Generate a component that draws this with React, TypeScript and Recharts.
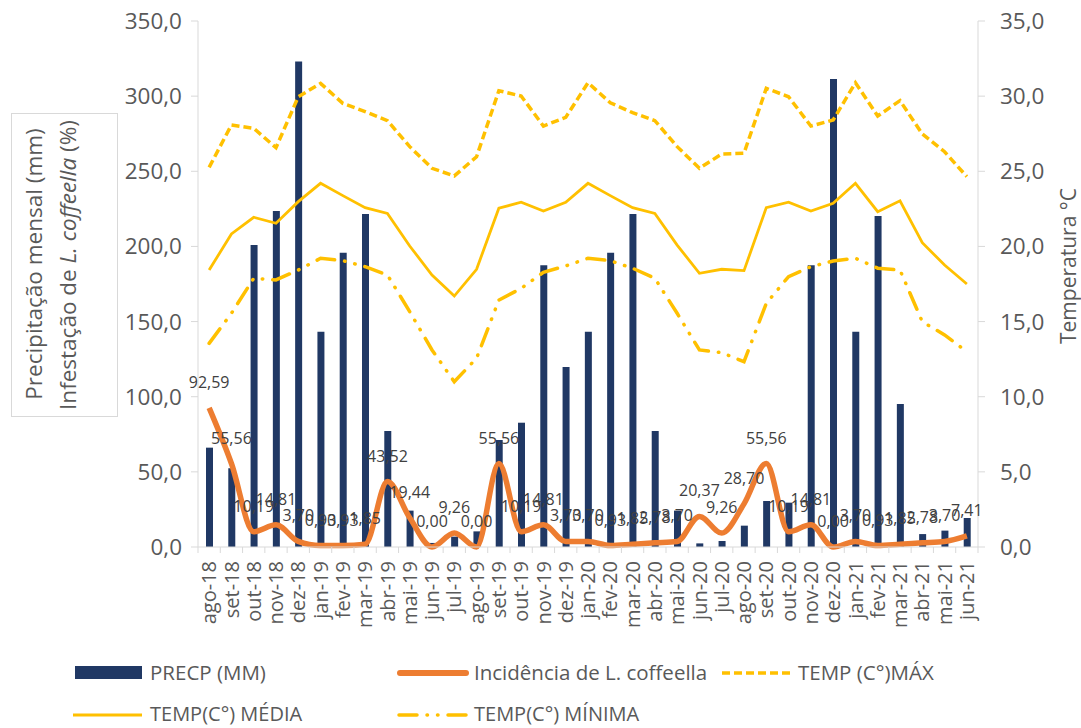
import React from "react";
import {
  ComposedChart,
  Bar,
  Line,
  XAxis,
  YAxis,
  LabelList,
} from "recharts";

const months = [
  "ago-18", "set-18", "out-18", "nov-18", "dez-18", "jan-19", "fev-19", "mar-19",
  "abr-19", "mai-19", "jun-19", "jul-19", "ago-19", "set-19", "out-19", "nov-19",
  "dez-19", "jan-20", "fev-20", "mar-20", "abr-20", "mai-20", "jun-20", "jul-20",
  "ago-20", "set-20", "out-20", "nov-20", "dez-20", "jan-21", "fev-21", "mar-21",
  "abr-21", "mai-21", "jun-21",
];

// precipitação mensal (mm)
const precip = [
  66.1, 52.4, 201.0, 223.6, 323.0, 143.3, 195.8, 221.6, 77.2, 24.2, 2.7, 6.9,
  10.4, 71.2, 82.7, 187.4, 119.8, 143.3, 195.8, 221.6, 77.2, 24.2, 2.4, 4.0,
  14.2, 30.6, 29.5, 187.4, 311.4, 143.3, 220.2, 95.1, 8.6, 10.9, 19.3,
];

// incidência de L. coffeella (%)
const incid = [
  92.59, 55.56, 10.19, 14.81, 3.7, 0.93, 0.93, 1.85, 43.52, 19.44, 0.0, 9.26,
  0.0, 55.56, 10.19, 14.81, 3.7, 3.7, 0.93, 1.85, 2.78, 3.7, 20.37, 9.26,
  28.7, 55.56, 10.19, 14.81, 0.0, 3.7, 0.93, 1.85, 2.78, 3.7, 7.41,
];

const tMax = [
  25.26, 28.08, 27.86, 26.57, 29.96, 30.85, 29.52, 28.97, 28.37, 26.64, 25.2, 24.69,
  25.97, 30.36, 30.01, 28.01, 28.59, 30.89, 29.56, 28.9, 28.37, 26.64, 25.2, 26.15,
  26.2, 30.52, 29.96, 28.01, 28.41, 30.89, 28.68, 29.7, 27.48, 26.3, 24.64,
];

const tMed = [
  18.43, 20.83, 21.94, 21.54, 22.98, 24.2, 23.38, 22.58, 22.2, 20.03, 18.1, 16.7,
  18.48, 22.54, 22.94, 22.36, 22.94, 24.2, 23.38, 22.58, 22.2, 20.09, 18.21, 18.48,
  18.39, 22.58, 22.94, 22.36, 22.87, 24.2, 22.31, 23.04, 20.25, 18.76, 17.5,
];

const tMin = [
  13.55, 15.55, 17.88, 17.77, 18.43, 19.21, 19.05, 18.65, 18.1, 15.66, 13.11, 11.0,
  12.56, 16.43, 17.21, 18.28, 18.7, 19.21, 19.05, 18.55, 17.88, 15.55, 13.11, 12.93,
  12.33, 16.21, 17.99, 18.65, 19.03, 19.21, 18.55, 18.43, 14.99, 14.11, 12.99,
];

const leftTicks = [0, 50, 100, 150, 200, 250, 300, 350];
const rightTicks = [0, 5, 10, 15, 20, 25, 30, 35];

const data = months.map((m, i) => ({
  m,
  precip: precip[i],
  incid: incid[i],
  tMax: tMax[i],
  tMed: tMed[i],
  tMin: tMin[i],
}));

const FONT = "'Open Sans', sans-serif";
const TEXT = "#595959";
const AXIS = "#d9d9d9";
const NAVY = "#203864";
const ORANGE = "#ED7D31";
const GOLD = "#FFC000";

const PLOT_LEFT = 198;
const PLOT_RIGHT = 978;
const BAND = (PLOT_RIGHT - PLOT_LEFT) / months.length;

const comma1 = (v: number) => v.toFixed(1).replace(".", ",");
const comma2 = (v: any) => Number(v).toFixed(2).replace(".", ",");

const MonthTick = (props: any) => {
  const { x, y, payload, index } = props;
  const last = index === months.length - 1;
  return (
    <g>
      <line x1={x - BAND / 2} y1={y - 8} x2={x - BAND / 2} y2={y - 2} stroke={AXIS} />
      {last && (
        <line x1={x + BAND / 2} y1={y - 8} x2={x + BAND / 2} y2={y - 2} stroke={AXIS} />
      )}
      <text
        x={x}
        y={y + 6}
        transform={`rotate(-90, ${x}, ${y + 6})`}
        textAnchor="end"
        dy="0.36em"
        fontSize={20}
        fill={TEXT}
        fontFamily={FONT}
      >
        {payload.value}
      </text>
    </g>
  );
};

function Overlay() {
  return (
    <svg
      width={1081}
      height={728}
      style={{ position: "absolute", left: 0, top: 0, pointerEvents: "none" }}
      fontFamily={FONT}
    >
      {/* left axis title */}
      <rect x={11.5} y={113.5} width={106} height={303} fill="none" stroke={AXIS} />
      <text
        x={34}
        y={264}
        transform="rotate(-90, 34, 264)"
        textAnchor="middle"
        dy="0.36em"
        fontSize={22.5}
        fill={TEXT}
      >
        Precipitação mensal (mm)
      </text>
      <text
        x={68}
        y={265}
        transform="rotate(-90, 68, 265)"
        textAnchor="middle"
        dy="0.36em"
        fontSize={22.5}
        fill={TEXT}
      >
        Infestação de <tspan fontStyle="italic">L. coffeella</tspan> (%)
      </text>
      {/* right axis title */}
      <text
        x={1068}
        y={266}
        transform="rotate(-90, 1068, 266)"
        textAnchor="middle"
        dy="0.36em"
        fontSize={21}
        fill={TEXT}
      >
        Temperatura °C
      </text>

      {/* legend */}
      <rect x={75} y={666} width={67} height={13} fill={NAVY} />
      <text x={150} y={680} fontSize={20.5} fill={TEXT}>PRECP (MM)</text>
      <line x1={400} y1={673} x2={466} y2={673} stroke={ORANGE} strokeWidth={6} strokeLinecap="round" />
      <text x={474} y={680} fontSize={20.5} fill={TEXT}>Incidência de L. coffeella</text>
      <line x1={722} y1={673} x2={790} y2={673} stroke={GOLD} strokeWidth={3.5} strokeDasharray="8 4" />
      <text x={798} y={680} fontSize={20.5} fill={TEXT}>TEMP (C°)MÁX</text>
      <line x1={73} y1={715} x2={142} y2={715} stroke={GOLD} strokeWidth={3} />
      <text x={150} y={721} fontSize={20} fill={TEXT}>TEMP(C°) MÉDIA</text>
      <line x1={399} y1={715} x2={468} y2={715} stroke={GOLD} strokeWidth={3.5} strokeDasharray="18 10 0.5 10 0.5 10" strokeLinecap="round" />
      <text x={474} y={721} fontSize={20} fill={TEXT}>TEMP(C°) MÍNIMA</text>
    </svg>
  );
}

export default function App() {
  return (
    <div style={{ position: "absolute", left: 0, top: 0, width: 1081, height: 728, background: "#fff" }}>
      <ComposedChart
        width={1081}
        height={728}
        data={data}
        margin={{ top: 21, right: 28, left: 118, bottom: 81 }}
        barCategoryGap={0}
        style={{ fontFamily: FONT }}
      >
        <XAxis
          dataKey="m"
          xAxisId={0}
          interval={0}
          height={100}
          axisLine={{ stroke: AXIS }}
          tickLine={false}
          tick={<MonthTick />}
        />
        <YAxis
          yAxisId="left"
          domain={[0, 350]}
          ticks={leftTicks}
          width={80}
          tickSize={7}
          tickMargin={9}
          axisLine={{ stroke: AXIS }}
          tickLine={{ stroke: AXIS }}
          tick={{ fill: TEXT, fontSize: 22.5 }}
          tickFormatter={comma1}
        />
        <YAxis
          yAxisId="right"
          orientation="right"
          domain={[0, 35]}
          ticks={rightTicks}
          width={75}
          tickSize={7}
          tickMargin={15}
          axisLine={{ stroke: AXIS }}
          tickLine={{ stroke: AXIS }}
          tick={{ fill: TEXT, fontSize: 22.5 }}
          tickFormatter={comma1}
        />
        <Bar
          dataKey="precip"
          yAxisId="left"
          fill={NAVY}
          barSize={7}
          isAnimationActive={false}
        />
        <Line
          dataKey="tMax"
          yAxisId="right"
          type="linear"
          stroke={GOLD}
          strokeWidth={3.5}
          strokeDasharray="8 4"
          dot={false}
          isAnimationActive={false}
        />
        <Line
          dataKey="tMed"
          yAxisId="right"
          type="linear"
          stroke={GOLD}
          strokeWidth={2.8}
          dot={false}
          isAnimationActive={false}
        />
        <Line
          dataKey="tMin"
          yAxisId="right"
          type="linear"
          stroke={GOLD}
          strokeWidth={3.5}
          strokeDasharray="18 10 0.5 10 0.5 10"
          strokeLinecap="round"
          dot={false}
          isAnimationActive={false}
        />
        <Line
          dataKey="incid"
          yAxisId="left"
          type="monotone"
          stroke={ORANGE}
          strokeWidth={5.5}
          dot={false}
          isAnimationActive={false}
        >
          <LabelList
            dataKey="incid"
            position="top"
            offset={20}
            formatter={comma2}
            fontSize={16}
            fill="#404040"
          />
        </Line>
      </ComposedChart>
      <Overlay />
    </div>
  );
}
